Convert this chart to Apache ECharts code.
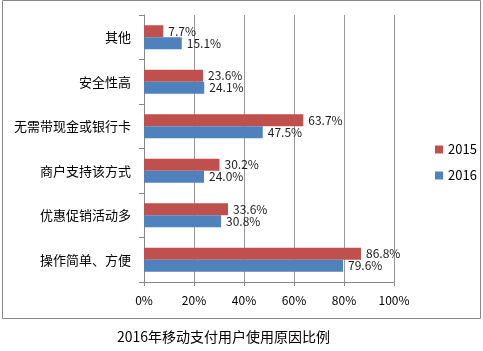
<!DOCTYPE html>
<html>
<head>
<meta charset="utf-8">
<script src="https://cdn.jsdelivr.net/npm/echarts@6/dist/echarts.min.js"></script>
<style>
  html, body { margin: 0; padding: 0; background: #fff; }
  #chart { width: 483px; height: 351px; }
</style>
</head>
<body>
<div id="chart"></div>
<script>
// 类别（自下而上）
var categories = ['操作简单、方便', '优惠促销活动多', '商户支持该方式', '无需带现金或银行卡', '安全性高', '其他'];
var values2015 = [86.8, 33.6, 30.2, 63.7, 23.6, 7.7];
var values2016 = [79.6, 30.8, 24.0, 47.5, 24.1, 15.1];
var seriesNames = ['2015', '2016'];
var titleText = '2016年移动支付用户使用原因比例';

var font = '"Noto Sans CJK SC", sans-serif';

var myChart = echarts.init(document.getElementById('chart'));

function labelFmt(p) {
    return p.value.toFixed(1) + '%';
}

var option = {
    animation: false,
    textStyle: { fontFamily: font },
    title: {
        text: titleText,
        left: 112,
        top: 325,
        textStyle: { fontSize: 14, fontWeight: 'normal', color: '#000', fontFamily: font }
    },
    graphic: [{
        type: 'rect',
        shape: { x: 2.5, y: 0.5, width: 478, height: 318 },
        style: { fill: 'none', stroke: '#888', lineWidth: 1 },
        silent: true
    }],
    legend: {
        orient: 'vertical',
        left: 430,
        top: 138,
        itemWidth: 8,
        itemHeight: 8,
        itemGap: 13,
        icon: 'rect',
        data: seriesNames,
        textStyle: { fontSize: 13, color: '#000', fontFamily: font }
    },
    grid: { left: 144, right: 89, top: 15, bottom: 69 },
    xAxis: {
        type: 'value',
        min: 0,
        max: 100,
        interval: 20,
        axisLine: { show: true, lineStyle: { color: '#888' } },
        axisTick: { show: true, length: 4, lineStyle: { color: '#888' } },
        splitLine: { show: true, lineStyle: { color: '#999' } },
        axisLabel: {
            formatter: '{value}%',
            color: '#000',
            fontSize: 12,
            margin: 12
        }
    },
    yAxis: {
        type: 'category',
        data: categories,
        axisLine: { show: true, lineStyle: { color: '#888' } },
        axisTick: { show: true, length: 5, lineStyle: { color: '#888' } },
        axisLabel: { color: '#000', fontSize: 13, margin: 13 }
    },
    series: [{
        name: seriesNames[0],
        type: 'bar',
        data: values2015,
        barWidth: 12,
        barGap: '0%',
        itemStyle: { color: '#C0504D' },
        label: { show: true, position: 'right', formatter: labelFmt, color: '#222', fontSize: 12, distance: 5 }
    }, {
        name: seriesNames[1],
        type: 'bar',
        data: values2016,
        barWidth: 12,
        barGap: '0%',
        itemStyle: { color: '#4F81BD' },
        label: { show: true, position: 'right', formatter: labelFmt, color: '#222', fontSize: 12, distance: 5 }
    }]
};

myChart.setOption(option);
</script>
</body>
</html>
